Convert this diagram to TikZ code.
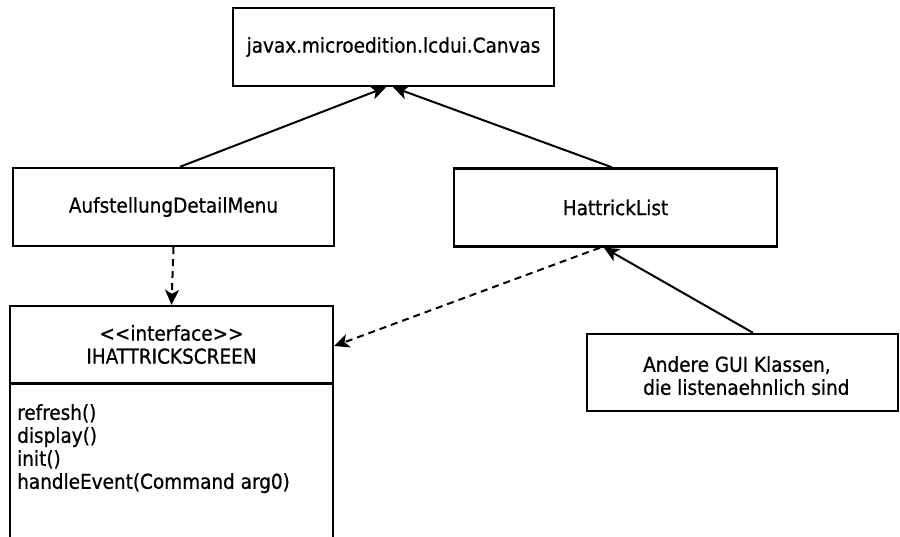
\documentclass[tikz,border=0pt]{standalone}
\usepackage{fontspec}
\setmainfont[FakeBold=0.7]{DejaVu Sans Condensed}
\usetikzlibrary{arrows.meta,calc}
\begin{document}
\begin{tikzpicture}[x=1pt,y=-1pt,
  every node/.style={font=\fontsize{20.5}{23}\selectfont},
  cls/.style={draw,line width=2.4pt,rectangle,inner sep=0pt,fill=white},
  gen/.style={line width=2pt,-{Stealth[length=15pt,width=14pt,inset=4pt]}},
  dep/.style={line width=2pt,dash pattern=on 7pt off 5pt,-{Stealth[length=15pt,width=14pt,inset=4pt]}}]
\useasboundingbox[fill=white] (0,0) rectangle (900,536);
\node[cls,minimum width=321pt,minimum height=78pt] (canvas) at (393.5,47) {javax.microedition.lcdui.Canvas};
\node[cls,minimum width=321pt,minimum height=78pt] (aufst) at (173.5,207) {AufstellungDetailMenu};
\node[cls,minimum width=323pt,minimum height=78pt] (hlist) at (615.5,207.5) {HattrickList};
\node[cls,minimum width=323pt,minimum height=170pt,anchor=north] (ibody) at (171.5,383) {};
\node[cls,minimum width=323pt,minimum height=77pt,align=center] (ihead) at (171.5,344.5) {<\kern0pt<interface>\kern0pt>\\IHATTRICKSCREEN};
\node[anchor=north west,align=left,inner sep=0pt] (methods) at (17,404) {refresh()\\display()\\init()\\handleEvent(Command arg0)};
\node[cls,minimum width=311pt,minimum height=77pt] (andere) at (742.5,372.5) {};
\node[anchor=north west,align=left,inner sep=0pt] (anderetxt) at (643,356) {Andere GUI Klassen,\\die listenaehnlich sind};
\draw[gen] ([xshift=6.5pt]aufst.north) -- ([xshift=-7.5pt]canvas.south);
\draw[gen] ([xshift=-3.5pt]hlist.north) -- ([xshift=-0.5pt]canvas.south);
\draw[dep] (aufst.south) -- (ihead.north);
\draw[dep] ([xshift=-15.5pt]hlist.south) -- ([yshift=-1.5pt]ihead.east);
\draw[gen] ([xshift=10.5pt]andere.north) -- ([xshift=-11.5pt]hlist.south);
\end{tikzpicture}
\end{document}
